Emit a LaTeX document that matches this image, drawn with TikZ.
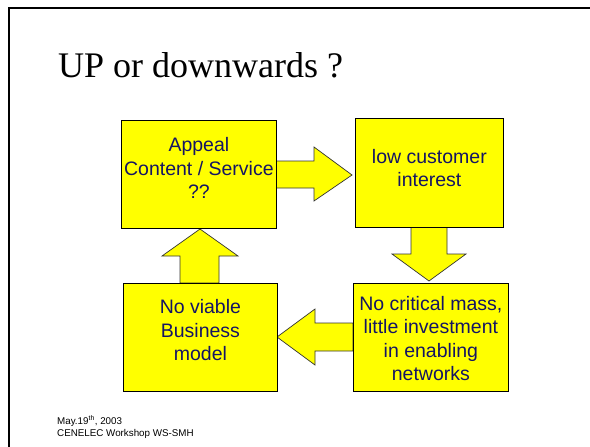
\documentclass[tikz,border=0pt]{standalone}
\usepackage{fontspec}
\setmainfont{Liberation Serif}
\newfontfamily\arialfont{Liberation Sans}
\definecolor{boxyellow}{RGB}{255,255,0}
\definecolor{navytext}{RGB}{20,20,100}
\begin{document}
\begin{tikzpicture}[x=1pt,y=-1pt,
  boxstyle/.style={draw=black, line width=0.8pt, fill=boxyellow, inner sep=0pt, anchor=north west},
  boxtext/.style={inner sep=0pt, align=center, text=navytext,
    font=\arialfont\fontsize{19.5}{23.5}\selectfont},
  blockarrow/.style={draw=black!80, line width=0.7pt, fill=boxyellow, line join=miter},
  frameline/.style={draw=black, line width=2pt}
]
\useasboundingbox (0,0) rectangle (590,447);
\draw[frameline] (590,8) -- (9,8) -- (9,447);
\node[anchor=base west, inner sep=0pt, font=\fontsize{36}{40}\selectfont] (title) at (58,77) {UP or downwards ?};

% block arrows
\draw[blockarrow] (276,161) -- (314,161) -- (314,147) -- (352,175) -- (314,201) -- (314,188) -- (276,188) -- cycle;
\draw[blockarrow] (411,227) -- (411,254) -- (392,254) -- (429,281) -- (466,254) -- (447,254) -- (447,227) -- cycle;
\draw[blockarrow] (353,323) -- (315,323) -- (315,309) -- (277,337) -- (315,365) -- (315,351) -- (353,351) -- cycle;
\draw[blockarrow] (180,283) -- (180,256) -- (162,256) -- (200,229) -- (238,256) -- (219,256) -- (219,283) -- cycle;

% boxes
\node[boxstyle, minimum width=155pt, minimum height=108pt] (appeal) at (121,120) {};
\node[boxstyle, minimum width=148pt, minimum height=109pt] (low) at (355,118) {};
\node[boxstyle, minimum width=155pt, minimum height=108pt] (crit) at (353,283) {};
\node[boxstyle, minimum width=154pt, minimum height=108pt] (viable) at (123,283) {};

% texts
\node[boxtext] (appealtext) at ([yshift=6pt]appeal.center) {Appeal\\Content / Service\\??};
\node[boxtext] (lowtext) at ([yshift=5pt]low.center) {low customer\\interest};
\node[boxtext] (crittext) at ([yshift=-1pt]crit.center) {No critical mass,\\little investment\\in enabling\\networks};
\node[boxtext] (viabletext) at ([yshift=7pt]viable.center) {No viable\\Business\\model};

% footer
\node[anchor=base west, inner sep=0pt, align=left, font=\arialfont\fontsize{9.8}{12}\selectfont] (footer) at (57,436) {May.19\textsuperscript{th}, 2003\\CENELEC Workshop WS-SMH};
\end{tikzpicture}
\end{document}
